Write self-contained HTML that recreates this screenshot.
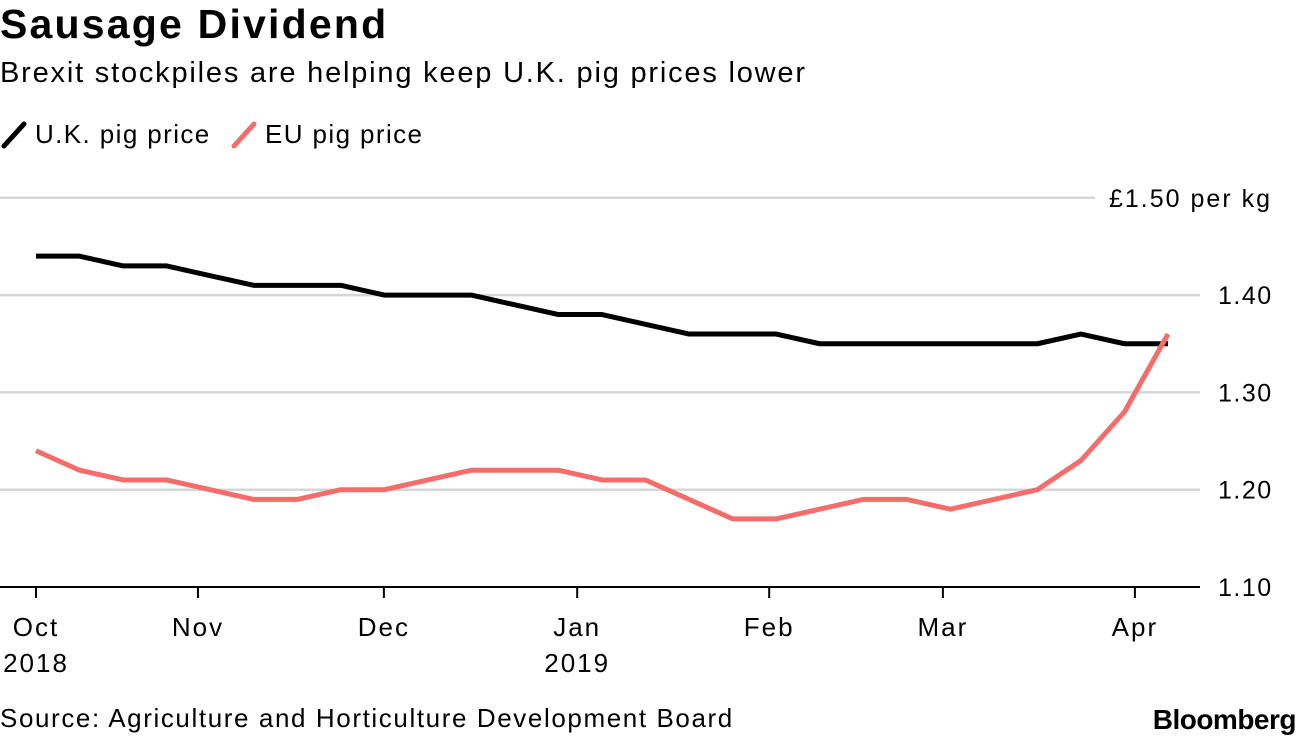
<!DOCTYPE html>
<html><head><meta charset="utf-8"><style>
body{margin:0;width:1296px;height:736px;background:#fff;font-family:"Liberation Sans",sans-serif;overflow:hidden;position:relative}
.t{position:absolute;white-space:nowrap;color:#000}
</style></head><body>
<div class="t" style="left:0;top:1px;font-size:41px;font-weight:bold;letter-spacing:2.2px">Sausage Dividend</div>
<div class="t" style="left:0;top:57px;font-size:29px;letter-spacing:1.8px">Brexit stockpiles are helping keep U.K. pig prices lower</div>
<svg width="1296" height="736" style="position:absolute;left:0;top:0" id="svg"></svg>
<div class="t" style="left:0;top:703px;font-size:26px;letter-spacing:1.6px">Source: Agriculture and Horticulture Development Board</div>
<div class="t" style="right:0px;top:704px;font-size:28px;font-weight:bold;letter-spacing:-0.5px">Bloomberg</div>
<script>
const ukValues=[1.44,1.44,1.43,1.43,1.42,1.41,1.41,1.41,1.40,1.40,1.40,1.39,1.38,1.38,1.37,1.36,1.36,1.36,1.35,1.35,1.35,1.35,1.35,1.35,1.36,1.35,1.35];
const euValues=[1.24,1.22,1.21,1.21,1.20,1.19,1.19,1.20,1.20,1.21,1.22,1.22,1.22,1.21,1.21,1.19,1.17,1.17,1.18,1.19,1.19,1.18,1.19,1.20,1.23,1.28,1.36];
const yTicks=[1.10,1.20,1.30,1.40,1.50];
const yTickLabels=["1.10","1.20","1.30","1.40","£1.50 per kg"];
const xTickPos=[0,3.72,7.99,12.43,16.84,20.83,25.24];
const xTickLabels=["Oct","Nov","Dec","Jan","Feb","Mar","Apr"];
const xTickYears=["2018","","","2019","","",""];
const NS="http://www.w3.org/2000/svg";
const svg=document.getElementById('svg');
const x=i=>36+i*(1132/26);
const y=v=>587-(v-1.10)*973;
function mk(tag,attrs){const e=document.createElementNS(NS,tag);for(const k in attrs)e.setAttribute(k,attrs[k]);svg.appendChild(e);return e;}
yTicks.forEach((v,i)=>{
  const top=i===yTicks.length-1;
  const g=mk('line',{x1:0,x2:top?1095:1200,y1:y(v),y2:y(v),stroke:i>0?'#d6d6d6':'#000','stroke-width':i===0?2:2.5});
  
  
  const t=mk('text',{x:top?1272:1218,y:y(v)+9,'font-size':25,'letter-spacing':top?2:1.5,'text-anchor':top?'end':'start',fill:'#000'});
  t.textContent=yTickLabels[i];
  
  
});
xTickPos.forEach((p,i)=>{
  const l=mk('line',{x1:x(p),x2:x(p),y1:587,y2:598,stroke:'#000','stroke-width':2});
  
  
  const t=mk('text',{x:x(p),y:636,'font-size':26,'letter-spacing':2,'text-anchor':'middle',fill:'#000'});
  t.textContent=xTickLabels[i];
  
  
  if(xTickYears[i]){const yt=mk('text',{x:x(p),y:672,'font-size':26,'letter-spacing':2,'text-anchor':'middle',fill:'#000'});yt.textContent=xTickYears[i];
  
  }
});
function line(vals,color,name){
  const p=mk('polyline',{points:vals.map((v,i)=>x(i)+','+y(v)).join(' '),fill:'none',stroke:color,'stroke-width':5,'stroke-linejoin':'round'});
  
  
}
line(ukValues,'#000','uk-pig-price-line');
line(euValues,'#f46d6a','eu-pig-price-line');
[[0,'#000','U.K. pig price','legend-uk'],[230,'#f46d6a','EU pig price','legend-eu']].forEach(([dx,c,txt,n])=>{
  const l=mk('line',{x1:dx+4,y1:146,x2:dx+24,y2:124,stroke:c,'stroke-width':5,'stroke-linecap':'round'});
  
  
  const t=mk('text',{x:dx+35,y:143,'font-size':26,'letter-spacing':1.4,fill:'#000'});t.textContent=txt;
  
  
});
</script>
</body></html>
